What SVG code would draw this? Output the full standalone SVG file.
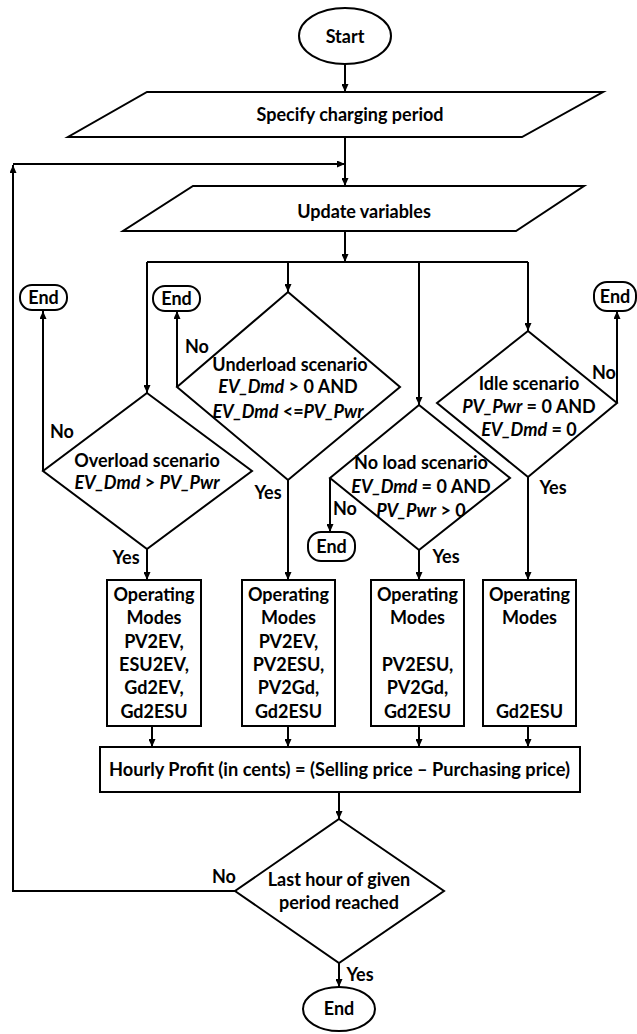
<svg xmlns="http://www.w3.org/2000/svg" width="637" height="1034" viewBox="0 0 637 1034">
<style>
text{font-family:Lato,"Liberation Sans",sans-serif;font-weight:bold;font-size:18px;fill:#000;text-anchor:middle}
.sh{fill:#fff;stroke:#000;stroke-width:2}
.ln{fill:none;stroke:#000;stroke-width:2}
.it{font-style:italic}
</style>
<defs>
<marker id="ah" markerUnits="userSpaceOnUse" markerWidth="9" markerHeight="7" refX="8" refY="3.5" orient="auto">
<path d="M0,0 L8,3.5 L0,7 z" fill="#000"/>
</marker>
</defs>
<rect width="637" height="1034" fill="#fff"/>
<g id="connectors">
<path class="ln" d="M345,64 V92" marker-end="url(#ah)"/>
<path class="ln" d="M345,137 V186" marker-end="url(#ah)"/>
<path class="ln" d="M13,164 H345" marker-end="url(#ah)"/>
<path class="ln" d="M345,231 V262" marker-end="url(#ah)"/>
<path class="ln" d="M147,262 H528"/>
<path class="ln" d="M147,262 V393" marker-end="url(#ah)"/>
<path class="ln" d="M288,262 V292" marker-end="url(#ah)"/>
<path class="ln" d="M419,262 V405" marker-end="url(#ah)"/>
<path class="ln" d="M528,262 V331" marker-end="url(#ah)"/>
<path class="ln" d="M43,471 V311" marker-end="url(#ah)"/>
<path class="ln" d="M177,387 V311" marker-end="url(#ah)"/>
<path class="ln" d="M617,403 V311" marker-end="url(#ah)"/>
<path class="ln" d="M330,478 V532" marker-end="url(#ah)"/>
<path class="ln" d="M147,549 V580" marker-end="url(#ah)"/>
<path class="ln" d="M288,480 V580" marker-end="url(#ah)"/>
<path class="ln" d="M419,550 V580" marker-end="url(#ah)"/>
<path class="ln" d="M528,477 V580" marker-end="url(#ah)"/>
<path class="ln" d="M152,726 V747" marker-end="url(#ah)"/>
<path class="ln" d="M288,726 V747" marker-end="url(#ah)"/>
<path class="ln" d="M419,726 V747" marker-end="url(#ah)"/>
<path class="ln" d="M528,726 V747" marker-end="url(#ah)"/>
<path class="ln" d="M339,792 V819" marker-end="url(#ah)"/>
<path class="ln" d="M235,891 H13 V165" marker-end="url(#ah)"/>
<path class="ln" d="M339,963 V987" marker-end="url(#ah)"/>
<text x="62" y="438">No</text>
<text x="197" y="353">No</text>
<text x="604" y="379">No</text>
<text x="345" y="515">No</text>
<text x="126" y="564">Yes</text>
<text x="268" y="499">Yes</text>
<text x="446" y="563">Yes</text>
<text x="553" y="494">Yes</text>
<text x="224" y="883">No</text>
<text x="360" y="981">Yes</text>
</g>
<g id="start">
<ellipse class="sh" cx="345" cy="36" rx="46" ry="28"/>
<text x="345" y="43">Start</text>
</g>
<g id="specify">
<polygon class="sh" points="147,92 603,92 522,137 68,137"/>
<text x="350" y="121">Specify charging period</text>
</g>
<g id="update">
<polygon class="sh" points="193,186 584,186 516,231 123,231"/>
<text x="364" y="218">Update variables</text>
</g>
<g id="end1">
<rect class="sh" x="20" y="285" width="47" height="25" rx="12"/>
<text x="43.5" y="304">End</text>
</g>
<g id="end2">
<rect class="sh" x="153" y="286" width="47" height="25" rx="12"/>
<text x="176.5" y="305">End</text>
</g>
<g id="end3">
<rect class="sh" x="594" y="282" width="42" height="29" rx="13"/>
<text x="615" y="303">End</text>
</g>
<g id="overload">
<polygon class="sh" points="147,393 252,471 147,549 43,471"/>
<text x="147" y="467">Overload scenario</text>
<text x="147" y="489"><tspan class="it">EV_Dmd</tspan> &gt; <tspan class="it">PV_Pwr</tspan></text>
</g>
<g id="underload">
<polygon class="sh" points="288,292 400,387 288,480 177,387"/>
<text x="290" y="371">Underload scenario</text>
<text x="288" y="393"><tspan class="it">EV_Dmd</tspan> &gt; 0 AND</text>
<text x="288" y="418"><tspan class="it">EV_Dmd</tspan> &lt;=<tspan class="it">PV_Pwr</tspan></text>
</g>
<g id="noload">
<polygon class="sh" points="419,405 510,478 419,550 330,478"/>
<text x="421" y="469">No load scenario</text>
<text x="421" y="493"><tspan class="it">EV_Dmd</tspan> = 0 AND</text>
<text x="421" y="517"><tspan class="it">PV_Pwr</tspan> &gt; 0</text>
</g>
<g id="end4">
<rect class="sh" x="308" y="532" width="47" height="29" rx="13"/>
<text x="331.5" y="553">End</text>
</g>
<g id="idle">
<polygon class="sh" points="528,331 617,403 528,477 437,403"/>
<text x="529" y="390">Idle scenario</text>
<text x="529" y="413"><tspan class="it">PV_Pwr</tspan> = 0 AND</text>
<text x="529" y="436"><tspan class="it">EV_Dmd</tspan> = 0</text>
</g>
<g id="modes1">
<rect class="sh" x="107" y="580" width="94" height="146"/>
<text x="154" y="601">Operating</text>
<text x="154" y="624">Modes</text>
<text x="154" y="648">PV2EV,</text>
<text x="154" y="671">ESU2EV,</text>
<text x="154" y="694">Gd2EV,</text>
<text x="154" y="718">Gd2ESU</text>
</g>
<g id="modes2">
<rect class="sh" x="242" y="580" width="93" height="146"/>
<text x="288.5" y="601">Operating</text>
<text x="288.5" y="624">Modes</text>
<text x="288.5" y="648">PV2EV,</text>
<text x="288.5" y="671">PV2ESU,</text>
<text x="288.5" y="694">PV2Gd,</text>
<text x="288.5" y="718">Gd2ESU</text>
</g>
<g id="modes3">
<rect class="sh" x="371" y="580" width="93" height="146"/>
<text x="417.5" y="601">Operating</text>
<text x="417.5" y="624">Modes</text>
<text x="417.5" y="671">PV2ESU,</text>
<text x="417.5" y="694">PV2Gd,</text>
<text x="417.5" y="718">Gd2ESU</text>
</g>
<g id="modes4">
<rect class="sh" x="483" y="580" width="93" height="146"/>
<text x="529.5" y="601">Operating</text>
<text x="529.5" y="624">Modes</text>
<text x="529.5" y="718">Gd2ESU</text>
</g>
<g id="profit">
<rect class="sh" x="100" y="747" width="480" height="45"/>
<text x="339.5" y="776" textLength="461" lengthAdjust="spacingAndGlyphs">Hourly Profit (in cents) = (Selling price – Purchasing price)</text>
</g>
<g id="lasthour">
<polygon class="sh" points="339,819 444,891 339,963 235,891"/>
<text x="339" y="886">Last hour of given</text>
<text x="339" y="909">period reached</text>
</g>
<g id="end5">
<ellipse class="sh" cx="339" cy="1009" rx="36" ry="22"/>
<text x="339" y="1015">End</text>
</g>
</svg>
